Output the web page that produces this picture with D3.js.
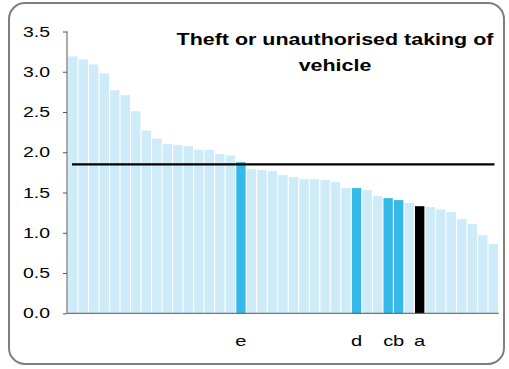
<!DOCTYPE html>
<html>
<head>
<meta charset="utf-8">
<script src="https://cdn.jsdelivr.net/npm/d3@7"></script>
<style>
  html, body { margin: 0; padding: 0; background: #fff; }
  svg { display: block; }
  text { font-family: "Liberation Sans", Arial, sans-serif; }
</style>
</head>
<body>
<svg id="chart" width="509" height="369"></svg>
<script>
const values = [3.19, 3.155, 3.09, 2.98, 2.77, 2.71, 2.51, 2.27, 2.17, 2.10, 2.09, 2.075, 2.03, 2.03, 1.98, 1.96,
  1.877, 1.79, 1.78, 1.765, 1.716, 1.69, 1.666, 1.666, 1.654, 1.63, 1.555, 1.555, 1.53, 1.455, 1.43, 1.406,
  1.37, 1.33, 1.32, 1.29, 1.257, 1.17, 1.108, 0.97, 0.86];
const labels = ["", "", "", "", "", "", "", "", "", "", "", "", "", "", "", "",
  "e", "", "", "", "", "", "", "", "", "", "", "d", "", "", "c", "b",
  "", "a", "", "", "", "", "", "", ""];
const highlight = ["", "", "", "", "", "", "", "", "", "", "", "", "", "", "", "",
  "hi", "", "", "", "", "", "", "", "", "", "", "hi", "", "", "hi", "hi",
  "", "own", "", "", "", "", "", "", ""];
const average = [1.85];
const yTicks = [0, 0.5, 1.0, 1.5, 2.0, 2.5, 3.0, 3.5];
const titleLines = ["Theft or unauthorised taking of", "vehicle"];

const STRETCH = 1.34;
const svg = d3.select("#chart");

svg.append("rect").attr("x", 9).attr("y", 3).attr("width", 495).attr("height", 361)
  .attr("rx", 16).attr("fill", "#fff").attr("stroke", "#7f7f7f").attr("stroke-width", 2);

const idx = values.map((d, i) => i);
const x = d3.scaleBand().domain(idx).range([67.5, 498.5]).paddingInner(0.11).paddingOuter(0.05);
const y = d3.scaleLinear().domain([0, 3.5]).range([313.3, 31.5]);

function stretch(sel) {
  sel.each(function() {
    const w = this.getComputedTextLength();
    d3.select(this).attr("textLength", w * STRETCH).attr("lengthAdjust", "spacingAndGlyphs");
  });
}

const colorFor = h => h === "hi" ? "#35b9e9" : (h === "own" ? "#000000" : "#cdebf8");

svg.append("g").selectAll("rect").data(idx).join("rect")
  .attr("x", i => x(i)).attr("width", x.bandwidth())
  .attr("y", i => y(values[i])).attr("height", i => y(0) - y(values[i]))
  .attr("fill", i => colorFor(highlight[i]));

// average line
svg.append("line").attr("x1", 72).attr("x2", 494.5)
  .attr("y1", y(average[0])).attr("y2", y(average[0]))
  .attr("stroke", "#000").attr("stroke-width", 2.2);

// y axis
const yAxis = d3.axisLeft(y).tickValues(yTicks).tickFormat(d3.format(".1f")).tickSize(4).tickPadding(13);
const gy = svg.append("g").attr("transform", "translate(67,0)").call(yAxis);
gy.select(".domain").attr("stroke", "#555").attr("d", `M0,${y(3.5)}V${y(0)}`);
gy.selectAll(".tick line").attr("stroke", "#555");
gy.selectAll(".tick text").attr("font-size", 14.5).attr("fill", "#000")
  .attr("font-family", "'Liberation Sans', Arial, sans-serif")
  .call(stretch);

// x axis
const xAxis = d3.axisBottom(x).tickSize(0).tickPadding(22).tickFormat(i => labels[i]);
const gx = svg.append("g").attr("transform", `translate(0,${y(0)})`).call(xAxis);
gx.select(".domain").attr("stroke", "#555").attr("d", `M67,0H498.7`);
gx.selectAll(".tick text").attr("font-size", 15).attr("fill", "#000")
  .attr("font-family", "'Liberation Sans', Arial, sans-serif")
  .call(stretch);

// title
svg.append("g").selectAll("text").data(titleLines).join("text")
  .attr("x", 335).attr("y", (d, i) => 45 + i * 26)
  .attr("text-anchor", "middle").attr("font-weight", "bold").attr("font-size", 16)
  .attr("fill", "#000").text(d => d)
  .call(stretch);
</script>
</body>
</html>
